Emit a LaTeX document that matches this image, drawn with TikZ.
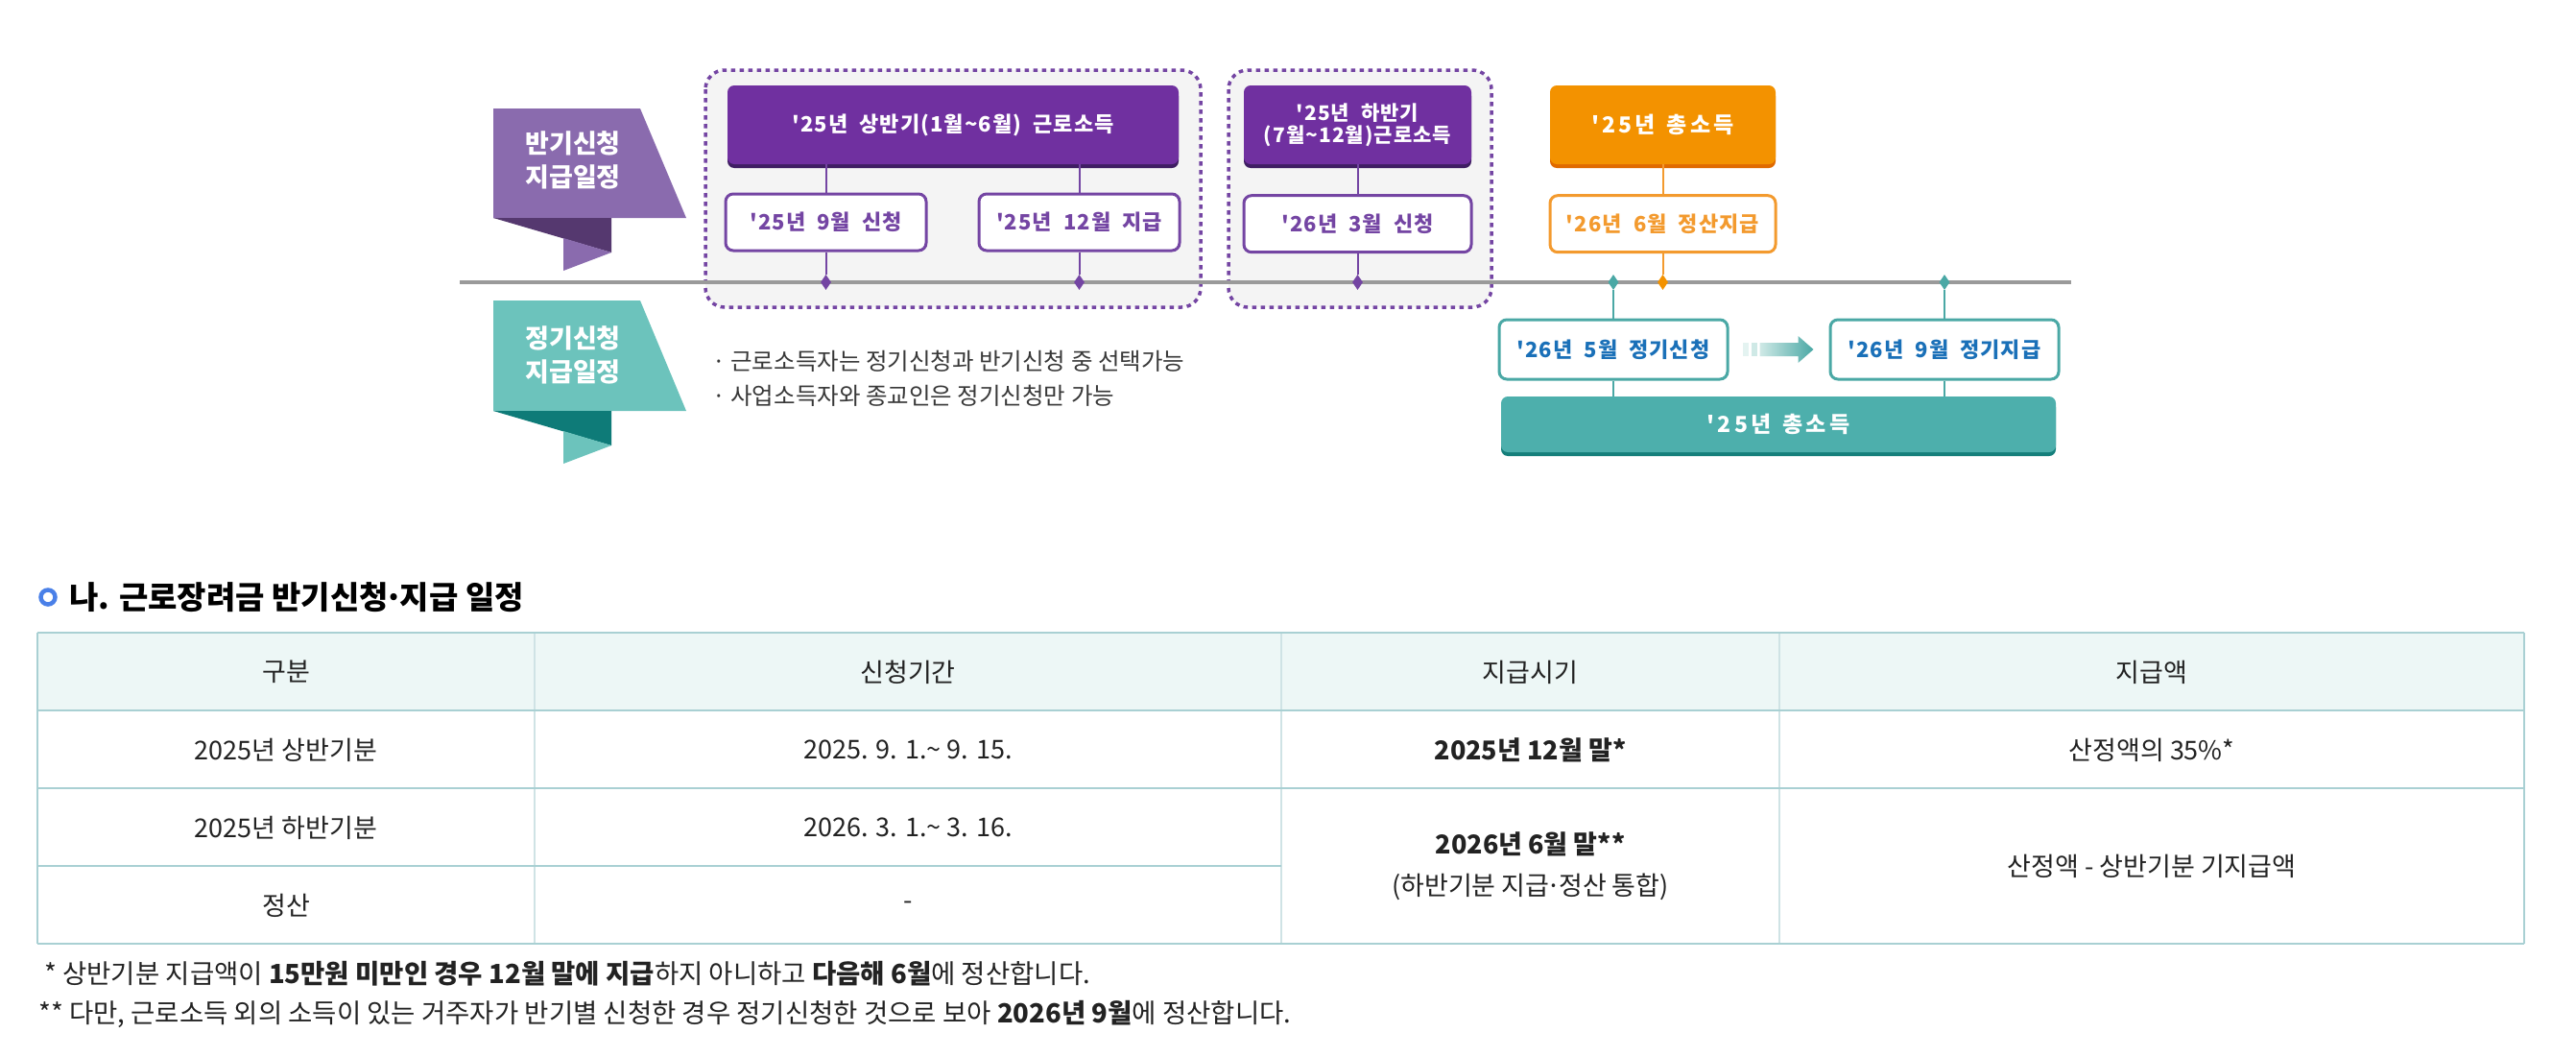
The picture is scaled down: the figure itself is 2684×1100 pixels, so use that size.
\documentclass[tikz,border=0pt]{standalone}
\usepackage{fontspec}
\setmainfont{Noto Sans CJK KR}
\newfontfamily\diagfont{Noto Sans CJK KR}[LetterSpace=5]
\usetikzlibrary{positioning,shapes.geometric}

\definecolor{purplebox}{HTML}{7030A0}
\definecolor{purpledeep}{HTML}{3F1E63}
\definecolor{linepurple}{HTML}{7445A3}
\definecolor{bannerpurple}{HTML}{8A6BAE}
\definecolor{foldpurple}{HTML}{55386F}
\definecolor{orangebox}{HTML}{F39200}
\definecolor{orangedeep}{HTML}{E06A00}
\definecolor{orangeline}{HTML}{F39A2E}
\definecolor{tealline}{HTML}{4AA8A5}
\definecolor{tealbox}{HTML}{4DAFAC}
\definecolor{tealdeep}{HTML}{157F7B}
\definecolor{tealbanner}{HTML}{6CC3BC}
\definecolor{tealfold}{HTML}{0E7B78}
\definecolor{tealtext}{HTML}{1A70B8}
\definecolor{tealpale}{HTML}{CFE9E6}
\definecolor{groupfill}{HTML}{F4F4F4}
\definecolor{timelinegray}{HTML}{9A9A9A}
\definecolor{tablerule}{HTML}{A9D0D3}
\definecolor{tablecol}{HTML}{CFE3E5}
\definecolor{tablehead}{HTML}{EDF7F6}
\definecolor{titleblue}{HTML}{4A80E8}
\definecolor{bodytext}{HTML}{222222}

\newcommand\boxfont{\diagfont\bfseries\fontsize{22}{25}\selectfont\spaceskip=12pt plus 2pt\relax}
\newcommand\tabfont{\fontsize{27}{32}\selectfont}
\newcommand\middot{\hbox to 0.36em{\hss·\hss}}

\begin{document}
\begin{tikzpicture}[x=1pt,y=-1pt,
    group/.style={draw=linepurple, fill=groupfill, line width=3.5pt, dash pattern=on 4.5pt off 4.5pt, rounded corners=20pt},
    shadowed/.style={preaction={fill=#1, transform canvas={yshift=-4pt}}},
    headbox/.style={rounded corners=7pt, text=white, inner sep=0pt, minimum height=82pt, align=center, font=\boxfont},
    datebox/.style={draw=#1, text=#1, fill=white, line width=3pt, rounded corners=8pt, inner sep=0pt, minimum height=59pt, font=\boxfont},
    pdot/.style={diamond, fill=#1, inner sep=0pt, minimum width=11pt, minimum height=16pt},
    link/.style={draw=#1, line width=2pt},
    bannertext/.style={text=white, align=center, font=\bfseries\fontsize{27}{35}\selectfont},
    bullettext/.style={anchor=west, inner sep=0pt, text=bodytext!90, font=\fontsize{24.5}{28}\selectfont},
    tabcell/.style={inner sep=0pt, text=bodytext, font=\tabfont},
    footnote/.style={anchor=west, inner sep=0pt, text=bodytext, font=\fontsize{27.5}{32}\selectfont}]
\useasboundingbox (0,0) rectangle (2684,1100);

% ribbons
\fill[bannerpurple] (514,113) -- (667,113) -- (715,227) -- (514,227) -- cycle;
\fill[foldpurple] (514,227) -- (637,227) -- (637,263) -- cycle;
\fill[bannerpurple] (587,248) -- (637,263) -- (587,282) -- cycle;
\node[bannertext] (half-label) at (597,167) {반기신청\\지급일정};
\fill[tealbanner] (514,313) -- (667,313) -- (715,428) -- (514,428) -- cycle;
\fill[tealfold] (514,428) -- (637,428) -- (637,464) -- cycle;
\fill[tealbanner] (587,449) -- (637,464) -- (587,483) -- cycle;
\node[bannertext] (regular-label) at (597,370) {정기신청\\지급일정};

\node[bullettext] (note-a) at (742,376) {· 근로소득자는 정기신청과 반기신청 중 선택가능};
\node[bullettext] (note-b) at (742,412) {· 사업소득자와 종교인은 정기신청만 가능};

% half-year groups and the time line
\draw[group] (735,73) rectangle (1251,320);
\draw[group] (1280,73) rectangle (1554,320);
\coordinate (tl-start) at (479,294);
\coordinate (tl-end) at (2158,294);
\draw[timelinegray, line width=3.5pt] (tl-start) -- (tl-end);

\node[headbox, shadowed=purpledeep, fill=purplebox, minimum width=470pt] (first) at (993,130) {'25년 상반기(1월\textasciitilde 6월) 근로소득};
\node[datebox=linepurple, minimum width=209pt] (sep25) at (860.5,231.5) {'25년 9월 신청};
\node[datebox=linepurple, minimum width=209pt] (dec25) at (1124.5,231.5) {'25년 12월 지급};

\node[headbox, shadowed=purpledeep, fill=purplebox, minimum width=237pt, font={\boxfont\fontsize{21}{23}\selectfont}] (second) at (1414.5,130) {'25년 하반기\\(7월\textasciitilde 12월)근로소득};
\node[datebox=linepurple, minimum width=237pt, below=31pt of second] (mar26) {'26년 3월 신청};

\node[headbox, shadowed=orangedeep, fill=orangebox, minimum width=235pt, font={\boxfont\addfontfeature{LetterSpace=14}\fontsize{23}{26}\selectfont}] (totalinc) at (1732.5,130) {'25년 총소득};
\node[datebox=orangeline, minimum width=235pt, below=31pt of totalinc] (jun26) {'26년 6월 정산지급};

\node[datebox=tealline, text=tealtext, minimum width=238pt, minimum height=62pt] (may26) at (1681,364) {'26년 5월 정기신청};
\node[datebox=tealline, text=tealtext, minimum width=238pt, minimum height=62pt, right=104pt of may26] (sep26) {'26년 9월 정기지급};
\node[headbox, shadowed=tealdeep, fill=tealbox, minimum width=578pt, minimum height=58pt, font={\boxfont\addfontfeature{LetterSpace=14}\fontsize{23}{26}\selectfont}] (total25) at (1853,442) {'25년 총소득};

\node[pdot=linepurple] (d-sep25) at (sep25 |- tl-start) {};
\node[pdot=linepurple] (d-dec25) at (dec25 |- tl-start) {};
\node[pdot=linepurple] (d-mar26) at (mar26 |- tl-start) {};
\node[pdot=tealline] (d-may26) at (may26 |- tl-start) {};
\node[pdot=orangebox] (d-jun26) at (jun26 |- tl-start) {};
\node[pdot=tealline] (d-sep26) at (sep26 |- tl-start) {};

\draw[link=linepurple] (first.south -| sep25.north) -- (sep25.north);
\draw[link=linepurple] (first.south -| dec25.north) -- (dec25.north);
\draw[link=linepurple] (second.south) -- (mar26.north);
\draw[link=orangeline] (totalinc.south) -- (jun26.north);
\draw[link=linepurple] (sep25.south) -- (d-sep25);
\draw[link=linepurple] (dec25.south) -- (d-dec25);
\draw[link=linepurple] (mar26.south) -- (d-mar26);
\draw[link=orangeline] (jun26.south) -- (d-jun26);
\draw[link=tealline] (d-may26) -- (may26.north);
\draw[link=tealline] (d-sep26) -- (sep26.north);
\draw[link=tealline] (may26.south) -- (may26.south |- total25.north);
\draw[link=tealline] (sep26.south) -- (sep26.south |- total25.north);

% block arrow between the regular boxes
\fill[tealpale!55] ([xshift=14pt,yshift=7pt]may26.east) rectangle ([xshift=20pt,yshift=-7pt]may26.east);
\fill[tealpale] ([xshift=23pt,yshift=7pt]may26.east) rectangle ([xshift=29pt,yshift=-7pt]may26.east);
\shade[left color=tealpale, right color=tealline] ([xshift=32pt,yshift=7pt]may26.east) -- ([xshift=-32pt,yshift=7pt]sep26.west) -- ([xshift=-32pt,yshift=14pt]sep26.west) -- ([xshift=-16pt]sep26.west) -- ([xshift=-32pt,yshift=-14pt]sep26.west) -- ([xshift=-32pt,yshift=-7pt]sep26.west) -- ([xshift=32pt,yshift=-7pt]may26.east) -- cycle;

% section title
\draw[titleblue, line width=4.5pt] (50,622) circle (7.5);
\node[anchor=west, inner sep=0pt, text=black, font=\bfseries\fontsize{33}{38}\selectfont] (title) at (72,622) {나. 근로장려금 반기신청\middot 지급 일정};

% table
\fill[tablehead] (39,659) rectangle (2630,740);
\foreach \cx in {557,1335,1854}
  \draw[tablecol, line width=1.2pt] (\cx,659) -- (\cx,983);
\draw[tablerule, line width=1.2pt] (39,659) -- (39,983) (2630,659) -- (2630,983);
\draw[tablerule, line width=2pt] (39,659) -- (2630,659) (39,740) -- (2630,740) (39,821) -- (2630,821) (39,902) -- (1335,902) (39,983) -- (2630,983);

\node[tabcell] (h-kind) at (298,700) {구분};
\node[tabcell] (h-period) at (946,700) {신청기간};
\node[tabcell] (h-paytime) at (1594.5,700) {지급시기};
\node[tabcell] (h-amount) at (2242,700) {지급액};
\node[tabcell] (first-kind) at (298,781) {2025년 상반기분};
\node[tabcell] (first-period) at (946,781) {2025. 9. 1.\textasciitilde{} 9. 15.};
\node[tabcell, font=\tabfont\bfseries] (first-pay) at (1594.5,781) {2025년 12월 말*};
\node[tabcell] (first-amount) at (2242,781) {산정액의 35\%*};
\node[tabcell] (second-kind) at (298,862) {2025년 하반기분};
\node[tabcell] (second-period) at (946,862) {2026. 3. 1.\textasciitilde{} 3. 16.};
\node[tabcell, align=center, font=\fontsize{27}{43}\selectfont] (second-pay) at (1594.5,902) {\textbf{2026년 6월 말**}\\(하반기분 지급\middot 정산 통합)};
\node[tabcell] (second-amount) at (2242,902) {산정액 - 상반기분 기지급액};
\node[tabcell] (settle-kind) at (298,943) {정산};
\node[tabcell] (settle-period) at (946,943) {-};

% notes
\node[footnote] (star-note) at (40,1014) {\ * 상반기분 지급액이 \textbf{15만원 미만인 경우 12월 말에 지급}하지 아니하고 \textbf{다음해 6월}에 정산합니다.};
\node[footnote] (dstar-note) at (40,1056) {** 다만, 근로소득 외의 소득이 있는 거주자가 반기별 신청한 경우 정기신청한 것으로 보아 \textbf{2026년 9월}에 정산합니다.};
\end{tikzpicture}
\end{document}
